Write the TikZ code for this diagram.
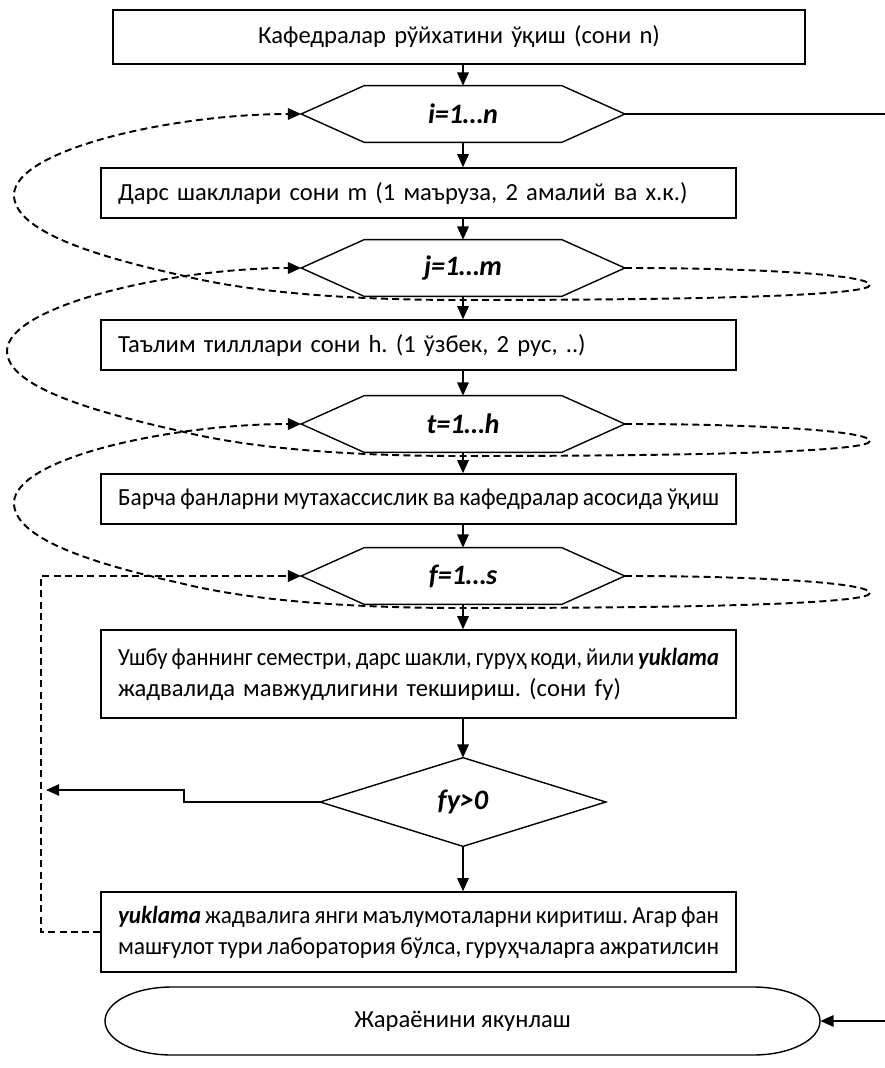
\documentclass[tikz,border=0pt]{standalone}
\usepackage{graphicx}
\usepackage{fontspec}
\setmainfont{Carlito}
\usetikzlibrary{arrows.meta,calc}
\newdimen\pxu \pxu=0.02cm
\newsavebox\linebox
% one line set to the full text width: spread when short, squeezed when long
\newcommand\fitline[1]{\sbox\linebox{#1}%
  \ifdim\wd\linebox>\linewidth
    \resizebox{\linewidth}{\height}{\spaceskip=0.18em\relax #1}%
  \else
    \makebox[\linewidth][s]{#1}%
  \fi}
\frenchspacing
\begin{document}
\begin{tikzpicture}[x=0.02cm,y=-0.02cm,
  font=\fontsize{14}{17.6}\selectfont,
  sline/.style={line width=1pt},
  dline/.style={line width=1.1pt,dash pattern=on 4pt off 2.4pt},
  arr/.style={-{Triangle[length=7.5pt,width=6.5pt]}},
  box/.style={draw,line width=0.8pt,inner xsep=17\pxu,inner ysep=0pt,
    text width=601\pxu,minimum height=50\pxu,align=left},
  hexnode/.style={inner sep=0pt,minimum width=323\pxu,minimum height=56\pxu,
    font=\fontsize{16}{18}\selectfont\bfseries\itshape},
  decnode/.style={inner sep=0pt,minimum width=285\pxu,minimum height=88\pxu,
    font=\fontsize{16}{18}\selectfont\bfseries\itshape}]
\useasboundingbox (0,0) rectangle (885,1068);

% process boxes
\node[box,text width=658\pxu,minimum height=54\pxu,align=center] (b1) at (459,37)
  {Кафедралар рўйхатини ўқиш (сони n)};
\node[box] (b2) at (418.5,193) {Дарс шакллари сони m (1 маъруза, 2 амалий ва х.к.)};
\node[box] (b3) at (418.5,345) {Таълим тилллари сони h. (1 ўзбек, 2 рус, ..)};
\node[box] (b4) at (418.5,499) {\fitline{Барча фанларни мутахассислик ва кафедралар асосида ўқиш}};
\node[box,minimum height=88\pxu] (b5) at (418.5,674)
  {\fitline{Ушбу фаннинг семестри, дарс шакли, гуруҳ коди, йили \textbf{\textit{yuklama}}}\\
   жадвалида мавжудлигини текшириш. (сони fy)};
\node[box,minimum height=80\pxu] (b6) at (418.5,932)
  {\fitline{\textbf{\textit{yuklama}} жадвалига янги маълумоталарни киритиш. Агар фан}\\
   \fitline{машғулот тури лаборатория бўлса, гуруҳчаларга ажратилсин}};

% loop headers (hexagons)
\node[hexnode] (i) at (463,114) {i=1…n};
\node[hexnode] (j) at (463,268) {j=1…m};
\node[hexnode] (t) at (463,424) {t=1…h};
\node[hexnode] (f) at (463,576) {f=1…s};
\foreach \n in {i,j,t,f}
  \draw[line width=0.8pt] (\n.west) -- ($(\n.north west)+(63,0)$) -- ($(\n.north east)+(-63,0)$)
    -- (\n.east) -- ($(\n.south east)+(-63,0)$) -- ($(\n.south west)+(63,0)$) -- cycle;

% decision
\node[decnode] (d) at (463,802) {fy>0};
\draw[line width=0.8pt] (d.north) -- (d.east) -- (d.south) -- (d.west) -- cycle;

% terminator
\node[inner sep=0pt,minimum width=715\pxu,minimum height=68\pxu] (term) at (462.5,1021)
  {Жараёнини якунлаш};
\draw[line width=0.8pt] (172,987) -- (753,987)
  .. controls (792,987) and (820,1003) .. (820,1021)
  .. controls (820,1039) and (792,1055) .. (753,1055) -- (172,1055)
  .. controls (133,1055) and (105,1039) .. (105,1021)
  .. controls (105,1003) and (133,987) .. (172,987);

% main flow
\draw[sline,arr] (b1.south -| i.north) -- (i.north);
\draw[sline,arr] (i.south) -- (i.south |- b2.north);
\draw[sline,arr] (b2.south -| j.north) -- (j.north);
\draw[sline,arr] (j.south) -- (j.south |- b3.north);
\draw[sline,arr] (b3.south -| t.north) -- (t.north);
\draw[sline,arr] (t.south) -- (t.south |- b4.north);
\draw[sline,arr] (b4.south -| f.north) -- (f.north);
\draw[sline,arr] (f.south) -- (f.south |- b5.north);
\draw[sline,arr] (b5.south -| d.north) -- (d.north);
\draw[sline,arr] (d.south) -- (d.south |- b6.north);

% exit of the outer loop to the end
\draw[sline,arr] (i.east) -- ++(270,0) |- (term.east);

% return loops of the nested cycles
\foreach \a/\b/\y/\l in {j/i/268/14, t/j/424/7, f/t/576/14}
  \draw[dline,arr] (\a.east) .. controls (760,\y) and (870,{\y+7}) .. (870,{\y+17})
    .. controls (870,{\y+27}) and (720,{\y+32}) .. (463,{\y+32})
    .. controls (330,{\y+32}) and (240,{\y+22}) .. (180,{\y+7})
    .. controls (90,{\y-13}) and (\l,{\y-38}) .. (\l,{\y-73})
    .. controls (\l,{\y-118}) and ($(\b.west)+(-130,0)$) .. (\b.west);

% return from the last step to the inner loop
\draw[dline,arr] (b6.west) -- ++(-59,0) |- (f.west);

% "yes" branch of the decision
\coordinate (yes) at (46,790);
\draw[sline,arr] (d.west) -- ++(-136,0) |- (yes);
\end{tikzpicture}
\end{document}
